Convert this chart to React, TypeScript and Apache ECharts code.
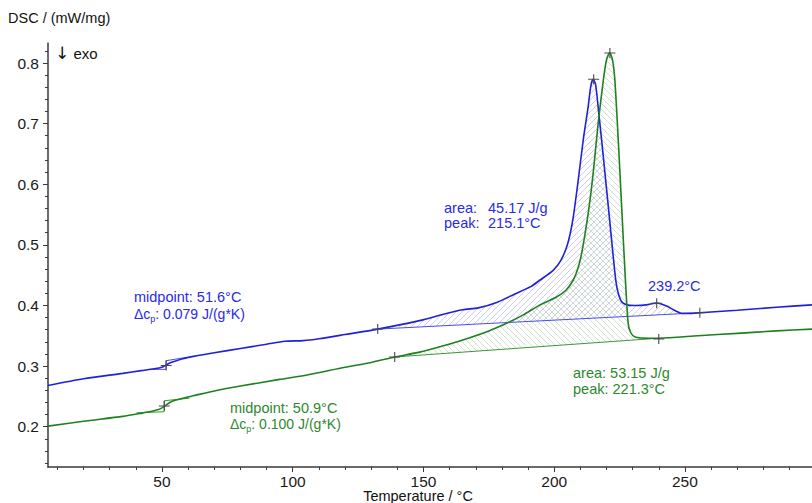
import React, { useEffect, useRef } from "react";
import * as echarts from "echarts";

// ---- data (°C, mW/mg) ----
const blueCurve: [number, number][] = [
  [6.4, 0.268], [20, 0.279], [35, 0.288], [42, 0.2925], [47, 0.2955], [50, 0.298], [51.5, 0.3015],
  [53, 0.305], [55, 0.308], [58, 0.312], [62, 0.316], [70, 0.322], [80, 0.329], [90, 0.336],
  [97, 0.341], [104, 0.342], [110, 0.345], [120, 0.352], [132.5, 0.361], [148.5, 0.375],
  [158, 0.386], [165, 0.393], [171, 0.396], [178, 0.405], [185, 0.419], [191, 0.431],
  [194.6, 0.442], [199.6, 0.458], [202.5, 0.474], [204.8, 0.497], [206.2, 0.52], [207.3, 0.546],
  [209.2, 0.607], [211.1, 0.673], [213, 0.728], [214, 0.762], [214.9, 0.773], [215.8, 0.765],
  [216.8, 0.728], [218.8, 0.645], [220.7, 0.563], [222.6, 0.48], [223.6, 0.44], [224.5, 0.42],
  [225.8, 0.406], [227.7, 0.401], [231, 0.4], [235.3, 0.401], [239.2, 0.404], [243, 0.399],
  [246, 0.392], [249, 0.387], [252, 0.387], [255.7, 0.388], [270, 0.392], [285, 0.397],
  [298.6, 0.401],
];
const greenCurve: [number, number][] = [
  [6.4, 0.201], [20, 0.209], [35, 0.217], [42, 0.222], [45, 0.2245], [48, 0.2275], [50, 0.231],
  [51.5, 0.2355], [53, 0.24], [55, 0.2435], [58, 0.247], [62, 0.251], [70, 0.259], [80, 0.267],
  [95, 0.278], [105, 0.285], [120, 0.298], [130, 0.306], [139, 0.315], [148.5, 0.323],
  [158, 0.334], [165, 0.343], [175, 0.358], [182, 0.371], [188, 0.384], [194.6, 0.401],
  [200.9, 0.414], [204.5, 0.425], [207.3, 0.442], [209, 0.46], [210.5, 0.486], [213, 0.552],
  [214.9, 0.618], [216.8, 0.7], [218.8, 0.772], [220, 0.805], [221.2, 0.817], [222.3, 0.805],
  [223.2, 0.772], [224.5, 0.673], [225.8, 0.563], [227.1, 0.453], [228.3, 0.37], [229.3, 0.355],
  [230.9, 0.348], [236.6, 0.346], [240, 0.346], [255, 0.35], [270, 0.354], [285, 0.358],
  [298.6, 0.361],
];
const blueBaseline: [number, number][] = [[132.5, 0.361], [255.7, 0.388]];
const greenBaseline: [number, number][] = [[139, 0.315], [240, 0.346]];
const blueTg: [number, number][] = [[45.4, 0.2946], [51.5, 0.2946], [51.5, 0.3088], [59.4, 0.3144]];
const greenTg: [number, number][] = [[40.3, 0.223], [50.8, 0.2246], [50.8, 0.2428], [60.5, 0.247]];
const blueMarks: [number, number][] = [[51.6, 0.301], [132.5, 0.361], [215.1, 0.773], [239.2, 0.4035], [255.7, 0.388]];
const greenMarks: [number, number][] = [[50.9, 0.234], [139, 0.315], [221.3, 0.8166], [240, 0.3446]];

const xLabelValues = [50, 100, 150, 200, 250];
const xMinorValues = [10, 20, 30, 40, 50, 60, 70, 80, 90, 100, 110, 120, 130, 140, 150, 160, 170, 180, 190, 200, 210, 220, 230, 240, 250, 260, 270, 280, 290];
const yLabelValues = [0.2, 0.3, 0.4, 0.5, 0.6, 0.7, 0.8];
const yMinorValues = [0.14, 0.16, 0.18, 0.2, 0.22, 0.24, 0.26, 0.28, 0.3, 0.32, 0.34, 0.36, 0.38, 0.4, 0.42, 0.44, 0.46, 0.48, 0.5, 0.52, 0.54, 0.56, 0.58, 0.6, 0.62, 0.64, 0.66, 0.68, 0.7, 0.72, 0.74, 0.76, 0.78, 0.8, 0.82];

const X_MIN = 6.4;
const X_MAX = 298.6;
const Y_MIN = 0.1335;
const Y_MAX = 0.833;

const BLUE = "#2020dc";
const GREEN = "#1f801f";
const BLUE_TEXT = "#2a2ae6";
const GREEN_TEXT = "#2d882d";
const FONT = "'Liberation Sans', Arial, Helvetica, sans-serif";

function areaPolygon(curve: [number, number][], base: [number, number][]) {
  const [t0, v0] = base[0];
  const [t1, v1] = base[1];
  const top = curve.filter((p) => p[0] >= t0 && p[0] <= t1);
  return [...top, [t1, v1], [t0, v0]] as [number, number][];
}

function hatchSegments(pts: number[][], dir: number, step: number) {
  const u = (p: number[]) => p[0] + dir * p[1];
  let min = Infinity;
  let max = -Infinity;
  pts.forEach((p) => {
    const v = u(p);
    if (v < min) min = v;
    if (v > max) max = v;
  });
  const segs: number[][][] = [];
  for (let c = Math.ceil(min / step) * step; c <= max; c += step) {
    const hits: number[][] = [];
    for (let i = 0; i < pts.length; i++) {
      const p = pts[i];
      const q = pts[(i + 1) % pts.length];
      const a = u(p) - c;
      const b = u(q) - c;
      if ((a < 0 && b >= 0) || (a >= 0 && b < 0)) {
        const t = a / (a - b);
        hits.push([p[0] + (q[0] - p[0]) * t, p[1] + (q[1] - p[1]) * t]);
      }
    }
    hits.sort((m, n) => m[0] - n[0]);
    for (let k = 0; k + 1 < hits.length; k += 2) segs.push([hits[k], hits[k + 1]]);
  }
  return segs;
}

function hatchSeries(curve: [number, number][], base: [number, number][], dir: number, color: string) {
  const poly = areaPolygon(curve, base);
  return {
    type: "custom",
    coordinateSystem: "cartesian2d",
    xAxisIndex: 0,
    yAxisIndex: 0,
    silent: true,
    z: 1,
    clip: true,
    data: [base[0]],
    renderItem: (_params: any, api: any) => {
      const px = poly.map((p) => api.coord(p));
      const segs = hatchSegments(px, dir, 6);
      return {
        type: "group",
        children: segs.map((s) => ({
          type: "line",
          shape: { x1: s[0][0], y1: s[0][1], x2: s[1][0], y2: s[1][1] },
          style: { stroke: color, lineWidth: 1 },
        })),
      };
    },
  };
}

const PLUS = "path://M4.5,0h1v4.5h4.5v1h-4.5v4.5h-1v-4.5h-4.5v-1h4.5z";

function text(x: number, y: number, t: string, color: string, extra: any = {}) {
  return {
    type: "text",
    x,
    y,
    silent: true,
    style: {
      text: t,
      fill: color,
      fontSize: 14,
      fontFamily: FONT,
      verticalAlign: "middle",
      textVerticalAlign: "middle",
      ...extra,
    },
  };
}

function dcpText(x: number, y: number, value: string, color: string) {
  return text(x, y, `{a|Δc}{s|p}{a|: ${value}}`, color, {
    rich: {
      a: { fontSize: 14, fontFamily: FONT, fill: color, color, lineHeight: 18, verticalAlign: "middle" },
      s: { fontSize: 9, fontFamily: FONT, fill: color, color, lineHeight: 18, verticalAlign: "bottom" },
    },
  });
}

export default function App() {
  const ref = useRef<HTMLDivElement>(null);

  useEffect(() => {
    if (!ref.current) return;
    const chart = echarts.init(ref.current, null, { renderer: "svg" });
    const axisColor = "#3a3a3a";
    const option: any = {
      animation: false,
      backgroundColor: "#ffffff",
      grid: { left: 48, right: 0, top: 43, bottom: 36, containLabel: false },
      xAxis: [
        {
          type: "value",
          min: X_MIN,
          max: X_MAX,
          position: "bottom",
          axisLine: { show: true, lineStyle: { color: axisColor, width: 1.5 } },
          axisTick: { show: true, customValues: xLabelValues, length: 5, lineStyle: { color: axisColor, width: 1 } },
          axisLabel: { customValues: xLabelValues, fontSize: 15.5, color: "#1a1a1a", fontFamily: FONT, margin: 6 },
          splitLine: { show: false },
        },
        {
          type: "value",
          min: X_MIN,
          max: X_MAX,
          position: "bottom",
          axisLine: { show: false },
          axisTick: { show: true, customValues: xMinorValues, length: 3, lineStyle: { color: axisColor, width: 1 } },
          axisLabel: { show: false },
          splitLine: { show: false },
        },
      ],
      yAxis: [
        {
          type: "value",
          min: Y_MIN,
          max: Y_MAX,
          position: "left",
          axisLine: { show: true, lineStyle: { color: axisColor, width: 1.5 } },
          axisTick: { show: true, customValues: yLabelValues, length: 5, lineStyle: { color: axisColor, width: 1 } },
          axisLabel: {
            customValues: yLabelValues,
            fontSize: 15.5,
            color: "#1a1a1a",
            fontFamily: FONT,
            margin: 9,
            formatter: (v: number) => v.toFixed(1),
          },
          splitLine: { show: false },
        },
        {
          type: "value",
          min: Y_MIN,
          max: Y_MAX,
          position: "left",
          axisLine: { show: false },
          axisTick: { show: true, customValues: yMinorValues, length: 3, lineStyle: { color: axisColor, width: 1 } },
          axisLabel: { show: false },
          splitLine: { show: false },
        },
      ],
      graphic: [
        text(8, 18, "DSC / (mW/mg)", "#111111", { fontSize: 14.5 }),
        text(55, 53, "{arr|↓} exo", "#111111", {
          fontSize: 15,
          rich: {
            arr: { fontSize: 17, fontFamily: "'DejaVu Sans', sans-serif", fill: "#111111", color: "#111111" },
          },
        }),
        text(418, 496, "Temperature / °C", "#111111", { align: "center", textAlign: "center", fontSize: 14.5 }),
        text(134, 297, "midpoint: 51.6°C", BLUE_TEXT, { fontSize: 14.5 }),
        dcpText(134, 314, "0.079 J/(g*K)", BLUE_TEXT),
        text(444, 208, "area:", BLUE_TEXT, { fontSize: 14.5 }),
        text(488, 208, "45.17 J/g", BLUE_TEXT, { fontSize: 14.5 }),
        text(444, 223, "peak:", BLUE_TEXT, { fontSize: 14.5 }),
        text(488, 223, "215.1°C", BLUE_TEXT, { fontSize: 14.5 }),
        text(648, 286, "239.2°C", BLUE_TEXT, { fontSize: 14.5 }),
        text(573, 373, "area: 53.15 J/g", GREEN_TEXT, { fontSize: 14.5 }),
        text(573, 389, "peak: 221.3°C", GREEN_TEXT, { fontSize: 14.5 }),
        text(230, 408, "midpoint: 50.9°C", GREEN_TEXT, { fontSize: 14.5 }),
        dcpText(230, 424, "0.100 J/(g*K)", GREEN_TEXT),
      ],
      series: [
        hatchSeries(blueCurve, blueBaseline, 1, "#cdd0e4"),
        hatchSeries(greenCurve, greenBaseline, -1, "#cfe0cf"),
        {
          type: "line",
          name: "baseline blue",
          data: blueBaseline,
          showSymbol: false,
          lineStyle: { color: "#4b4bee", width: 1 },
          z: 2,
        },
        {
          type: "line",
          name: "baseline green",
          data: greenBaseline,
          showSymbol: false,
          lineStyle: { color: "#3c963c", width: 1 },
          z: 2,
        },
        {
          type: "line",
          name: "tg blue",
          data: blueTg,
          showSymbol: false,
          lineStyle: { color: "#4b4bee", width: 1 },
          z: 2,
        },
        {
          type: "line",
          name: "tg green",
          data: greenTg,
          showSymbol: false,
          lineStyle: { color: "#3c963c", width: 1 },
          z: 2,
        },
        {
          type: "line",
          name: "sample 1",
          data: blueCurve,
          showSymbol: false,
          smooth: 0.25,
          lineStyle: { color: BLUE, width: 1.6 },
          z: 3,
        },
        {
          type: "line",
          name: "sample 2",
          data: greenCurve,
          showSymbol: false,
          smooth: 0.25,
          lineStyle: { color: GREEN, width: 1.6 },
          z: 3,
        },
        {
          type: "scatter",
          data: [...blueMarks, ...greenMarks],
          symbol: PLUS,
          symbolSize: [11, 10],
          itemStyle: { color: "#4a4a4a", opacity: 1 },
          z: 4,
          silent: true,
        },
      ],
    };
    chart.setOption(option);
    return () => chart.dispose();
  }, []);

  return (
    <div
      ref={ref}
      style={{ position: "absolute", left: 0, top: 0, width: 812, height: 503, background: "#fff" }}
    />
  );
}
